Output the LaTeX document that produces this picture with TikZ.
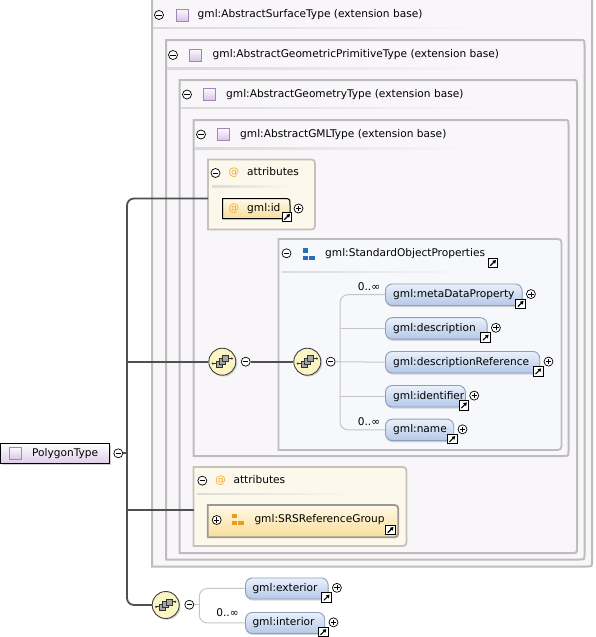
\documentclass[tikz,border=0pt]{standalone}
\usepackage{fontspec}
\setmainfont{DejaVu Sans}
\usetikzlibrary{calc,shadows,arrows.meta}
\definecolor{frameFill}{HTML}{F9F6FA}
\definecolor{frameLine}{HTML}{BDBDBD}
\definecolor{attrFill}{HTML}{FDF8EC}
\definecolor{attrLine}{HTML}{C6C2BA}
\definecolor{sopFill}{HTML}{F7F8FC}
\definecolor{blueTop}{HTML}{EBF1FB}
\definecolor{blueBot}{HTML}{B4C8E8}
\definecolor{blueLine}{HTML}{8E9DB8}
\definecolor{yelTop}{HTML}{FFF9E8}
\definecolor{yelBot}{HTML}{F8DE9A}
\definecolor{atOrange}{HTML}{F0A830}
\definecolor{icoBlue}{HTML}{2C6CB4}
\definecolor{icoOrange}{HTML}{E9A018}
\definecolor{purpTop}{HTML}{FCFAFD}
\definecolor{purpBot}{HTML}{D8C5E5}
\definecolor{purpLine}{HTML}{A384BF}
\definecolor{compFill}{HTML}{FAF5C2}
\definecolor{trunkCol}{HTML}{505050}
\definecolor{branchCol}{HTML}{C6C6C6}
\newcommand\dgfont{\fontsize{10.6}{12.5}\selectfont}
\newcommand\rrpath[3]{%
  \path[#1] (#2.north west) -- ($(#2.north east)+(-#3,0)$) .. controls (#2.north east) .. ($(#2.north east)+(0,#3)$)
    -- ($(#2.south east)+(0,-#3)$) .. controls (#2.south east) .. ($(#2.south east)+(-#3,0)$) -- (#2.south west) -- cycle;}
\newcommand\grpicon[2]{\begin{scope}[shift={(#1.center)},x=1pt,y=1pt]
  \fill[#2] (-5.8,1.4) rectangle (-1.4,5.8);
  \fill[#2] (-5.8,-5.8) rectangle (-1.4,-1.4);
  \fill[#2] (0.2,-5.8) rectangle (5.8,-1.4);
\end{scope}}
\newcommand\seqicon[1]{\begin{scope}[shift={(#1.center)},x=1pt,y=1pt]
  \draw[line width=0.7pt, black!80] (-9.5,-1.8) -- (-4,-1.8) (4,3.2) -- (9.5,3.2);
  \fill[black!80] (-9.5,-1.8) circle (1.2) (9.5,3.2) circle (1.2);
  \foreach \dx/\dy in {-3.2/-2.4, 0/0.4, 3.2/3.2}
    \filldraw[fill=black!35, draw=black!80, line width=0.6pt] (\dx-3,\dy-3) rectangle (\dx+3,\dy+3);
\end{scope}}
\tikzset{
  region/.style={inner sep=0pt, outer sep=0pt, anchor=north west},
  framebox/.style={draw=frameLine, line width=2pt, fill=frameFill},
  attrbox/.style={draw=attrLine, line width=1.8pt, fill=attrFill},
  sopbox/.style={draw=frameLine, line width=1.8pt, fill=sopFill},
  idbox/.style={draw=black, line width=1pt, top color=yelTop, bottom color=yelBot,
    drop shadow={shadow xshift=0.4pt, shadow yshift=-1.4pt, opacity=0.3}},
  srsbox/.style={draw=black!40, line width=1.8pt, top color=yelTop, bottom color=yelBot},
  lbl/.style={inner sep=0pt, anchor=west, text height=7.8pt, text depth=2pt},
  atsign/.style={inner sep=0pt, text=atOrange, text height=7.8pt, text depth=2pt},
  occ/.style={inner sep=0pt, text height=7.8pt, text depth=2pt},
  ctlbase/.style={circle, draw=black, line width=0.7pt, fill=white, minimum size=9pt, inner sep=0pt},
  minus/.style={ctlbase, path picture={\draw[line width=0.8pt]
     ([xshift=-2.6pt]path picture bounding box.center) -- ([xshift=2.6pt]path picture bounding box.center);}},
  plus/.style={ctlbase, path picture={\draw[line width=0.8pt]
     ([xshift=-2.6pt]path picture bounding box.center) -- ([xshift=2.6pt]path picture bounding box.center)
     ([yshift=-2.6pt]path picture bounding box.center) -- ([yshift=2.6pt]path picture bounding box.center);}},
  golink/.style={rectangle, draw=black, line width=0.9pt, fill=white, minimum size=9.5pt, inner sep=0pt,
    path picture={\draw[line width=1.1pt, -{Triangle[length=3.2pt, width=3.8pt]}]
      ([shift={(-2.7pt,-2.7pt)}]path picture bounding box.center) -- ([shift={(3pt,3pt)}]path picture bounding box.center);}},
  typeico/.style={rectangle, draw=purpLine, line width=0.8pt, top color=purpTop, bottom color=purpBot,
    minimum size=12pt, inner sep=0pt},
  grpbox/.style={inner sep=0pt, minimum size=12pt},
  elem/.style={rectangle, rounded corners=7pt, draw=blueLine, line width=0.9pt, top color=blueTop,
    bottom color=blueBot, minimum height=21.5pt, inner sep=0pt, anchor=north west,
    drop shadow={shadow xshift=0.3pt, shadow yshift=-1.6pt, opacity=0.3}},
  comp/.style={circle, draw=black!75, line width=0.9pt, fill=compFill, minimum size=27pt, inner sep=0pt,
    drop shadow={shadow xshift=1.3pt, shadow yshift=-1.3pt, opacity=0.35}},
  trunk/.style={draw=trunkCol, line width=1.8pt},
  branch/.style={draw=branchCol, line width=1pt},
}
\begin{document}
\begin{tikzpicture}[x=1pt,y=-1pt,font=\dgfont]
\useasboundingbox (0,0) rectangle (595,637);
% ---------- nested extension frames
\node[region, minimum width=440pt, minimum height=571.5pt] (f1) at (152,-5) {};
\rrpath{framebox}{f1}{5}
\node[region, minimum width=418.5pt, minimum height=519.5pt] (f2) at (166,40) {};
\rrpath{framebox}{f2}{5}
\node[region, minimum width=397.5pt, minimum height=473pt] (f3) at (179.5,80) {};
\rrpath{framebox}{f3}{5}
\node[region, minimum width=375pt, minimum height=336pt] (f4) at (193.5,120) {};
\rrpath{framebox}{f4}{5}
% frame headers
\node[minus] (f1m) at (159,15) {};
\node[typeico] (f1i) at (182,15) {};
\node[lbl] (f1t) at (197.5,15) {gml:AbstractSurfaceType (extension base)};
\shade[left color=black!15, right color=frameFill] (153,27.3) rectangle (483,28.8);
\node[minus] (f2m) at (173,55) {};
\node[typeico] (f2i) at (195.5,55) {};
\node[lbl] (f2t) at (212.5,55) {gml:AbstractGeometricPrimitiveType (extension base)};
\shade[left color=black!15, right color=frameFill] (167,67.5) rectangle (487,69);
\node[minus] (f3m) at (187,94.5) {};
\node[typeico] (f3i) at (209,94.5) {};
\node[lbl] (f3t) at (226,94.5) {gml:AbstractGeometryType (extension base)};
\shade[left color=black!15, right color=frameFill] (181,107) rectangle (487,108.5);
\node[minus] (f4m) at (201,134.5) {};
\node[typeico] (f4i) at (223,134.5) {};
\node[lbl] (f4t) at (240,134.5) {gml:AbstractGMLType (extension base)};
\shade[left color=black!15, right color=frameFill] (195,147.5) rectangle (473,149);
% ---------- attributes (gml:id)
\node[region, minimum width=107pt, minimum height=70pt] (attr1) at (208,159.5) {};
\rrpath{attrbox}{attr1}{8}
\node[minus] (a1m) at (215.5,173) {};
\node[atsign] (a1at) at (234,173) {@};
\node[lbl] (a1t) at (247,173) {attributes};
\shade[left color=black!14, right color=attrFill] (212,185.8) rectangle (292,187.2);
\node[region, minimum width=67.5pt, minimum height=20pt] (gid) at (222.5,198.5) {};
\rrpath{idbox}{gid}{7}
\node[atsign] (gidat) at (234,208.5) {@};
\node[lbl] (gidt) at (247,208.5) {gml:id};
\node[golink] (gidl) at (287,217) {};
\node[plus] (gidp) at (298.5,208.5) {};
% ---------- StandardObjectProperties group
\node[region, minimum width=283pt, minimum height=211pt] (sop) at (278.5,239) {};
\rrpath{sopbox}{sop}{8}
\node[minus] (sopm) at (286.5,253.3) {};
\node[grpbox] (sopi) at (309.2,254.2) {};
\grpicon{sopi}{icoBlue}
\node[lbl] (sopt) at (325,253.3) {gml:StandardObjectProperties};
\node[golink] (sopl) at (493,263) {};
\shade[left color=black!14, right color=sopFill] (282,271) rectangle (470,272.5);
% ---------- compositors
\node[comp] (comp1) at (222.3,361.7) {};
\seqicon{comp1}
\node[minus] (comp1m) at (245.7,361.7) {};
\node[comp] (comp2) at (307.3,361.7) {};
\seqicon{comp2}
\node[minus] (comp2m) at (330.7,361.7) {};
% ---------- elements of the group
\node[elem, minimum width=136.7pt] (meta) at (385,283.5) {};
\node[lbl] (metat) at ($(meta.west)+(8,0)$) {gml:metaDataProperty};
\node[elem, minimum width=101.7pt] (desc) at (385,317.2) {};
\node[lbl] (desct) at ($(desc.west)+(8,0)$) {gml:description};
\node[elem, minimum width=154.3pt] (dref) at (385,351) {};
\node[lbl] (dreft) at ($(dref.west)+(8,0)$) {gml:descriptionReference};
\node[elem, minimum width=80pt] (ident) at (385,385) {};
\node[lbl] (identt) at ($(ident.west)+(8,0)$) {gml:identifier};
\node[elem, minimum width=68.3pt] (gname) at (385,418.7) {};
\node[lbl] (gnamet) at ($(gname.west)+(8,0)$) {gml:name};
\foreach \n in {meta,desc,dref,ident,gname}{
  \node[golink] (\n l) at ($(\n.south east)+(-2,-2)$) {};
  \node[plus] (\n p) at ($(\n.east)+(8.3,-0.6)$) {};
}
\node[occ] (metao) at (369,287.3) {0..∞};
\node[occ] (gnameo) at (369,422.7) {0..∞};
\coordinate (bx2) at (340,361.7);
\draw[branch, rounded corners=8pt] (meta.west) -- (meta.west -| bx2) -- (gname.west -| bx2) -- (gname.west);
\draw[branch] (comp2m.east) -- (dref.west);
\draw[branch] (desc.west -| bx2) -- (desc.west);
\draw[branch] (ident.west -| bx2) -- (ident.west);
% ---------- attributes (SRSReferenceGroup)
\node[region, minimum width=213pt, minimum height=79pt] (attr2) at (193.5,467) {};
\rrpath{attrbox}{attr2}{8}
\node[minus] (a2m) at (202.3,480.7) {};
\node[atsign] (a2at) at (220.7,480.7) {@};
\node[lbl] (a2t) at (233.3,480.7) {attributes};
\shade[left color=black!14, right color=attrFill] (197,493) rectangle (355,494.4);
\node[region, minimum width=190.6pt, minimum height=32.3pt] (srs) at (207.7,505) {};
\rrpath{srsbox}{srs}{8}
\node[plus] (srsp) at (216.7,520) {};
\node[grpbox] (srsi) at (238,519.5) {};
\grpicon{srsi}{icoOrange}
\node[lbl] (srst) at (254.3,520) {gml:SRSReferenceGroup};
\node[golink] (srsl) at (390.5,530) {};
% ---------- PolygonType
\node[region, draw=black, line width=1.3pt, top color=white, bottom color=purpBot!85,
  minimum width=109pt, minimum height=20pt,
  drop shadow={shadow xshift=1.5pt, shadow yshift=-1.5pt, opacity=0.35}] (poly) at (0.8,443.3) {};
\node[typeico] (polyi) at (15.5,453.5) {};
\node[lbl] (polyt) at (32,453.5) {PolygonType};
\node[minus] (polym) at (118.3,453.3) {};
% ---------- bottom sequence
\node[comp] (comp3) at (165.7,605) {};
\seqicon{comp3}
\node[minus] (comp3m) at (189.3,604.7) {};
\node[elem, minimum width=82.7pt, minimum height=21pt] (ext) at (245,577.5) {};
\node[lbl] (extt) at ($(ext.west)+(7.3,0)$) {gml:exterior};
\node[elem, minimum width=79.3pt, minimum height=21pt] (int) at (245,612) {};
\node[lbl] (intt) at ($(int.west)+(7.3,0)$) {gml:interior};
\foreach \n in {ext,int}{
  \node[golink] (\n l) at ($(\n.south east)+(-2,-1.8)$) {};
  \node[plus] (\n p) at ($(\n.east)+(8.3,-0.6)$) {};
}
\node[occ] (into) at (227.5,614) {0..∞};
\coordinate (bx3) at (199.3,604.7);
\draw[branch, rounded corners=8pt] (ext.west) -- (ext.west -| bx3) -- (int.west -| bx3) -- (int.west);
\draw[branch] (comp3m.east) -- (bx3);
% ---------- main trunk
\coordinate (jTop) at (127,198.5);
\coordinate (jB) at (127,510);
\draw[trunk, rounded corners=7pt] (attr1.west |- jTop) -- (jTop) -- (jTop |- comp3) -- (comp3.west);
\draw[trunk] (jTop |- comp1) -- (comp1.west);
\draw[trunk] (jB) -- (attr2.west |- jB);
\draw[trunk] (polym.east) -- (polym.east -| jTop);
\draw[trunk] (comp1m.east) -- (comp2.west);
\end{tikzpicture}
\end{document}
